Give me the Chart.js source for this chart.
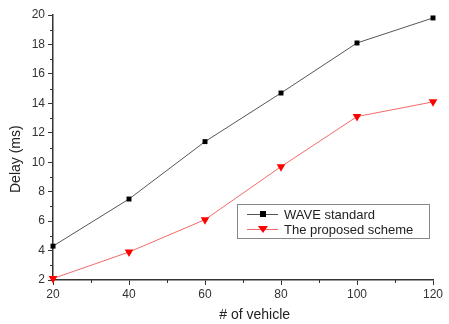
<!DOCTYPE html>
<html>
<head>
<meta charset="utf-8">
<script src="https://cdn.jsdelivr.net/npm/chart.js@4"></script>
<style>
  html, body { margin: 0; padding: 0; background: #fff; }
  #wrap { width: 449px; height: 324px; }
</style>
</head>
<body>
<div id="wrap"><canvas id="delayChart"></canvas></div>
<script>
const vehicles = [20, 40, 60, 80, 100, 120]
const waveDelay = [4.3, 7.5, 11.4, 14.7, 18.1, 19.8]
const proposedDelay = [2.1, 3.9, 6.1, 9.7, 13.1, 14.1]
const seriesNames = ['WAVE standard', 'The proposed scheme']

const axisColor = '#333'

// minor ticks between the labelled ones, like origin plots
const minorTicks = {
  id: 'minorTicks',
  afterDraw(chart) {
    const ctx = chart.ctx
    const x = chart.scales.x
    const y = chart.scales.y
    ctx.save()
    ctx.strokeStyle = axisColor
    ctx.lineWidth = 1
    ctx.beginPath()
    for (let v = 30; v < 120; v += 20) {
      const px = Math.round(x.getPixelForValue(v)) + 0.5
      ctx.moveTo(px, y.bottom)
      ctx.lineTo(px, y.bottom + 3)
    }
    for (let v = 3; v < 20; v += 2) {
      const py = Math.round(y.getPixelForValue(v)) + 0.5
      ctx.moveTo(x.left, py)
      ctx.lineTo(x.left - 3, py)
    }
    ctx.stroke()
    ctx.restore()
  }
}

// legend box sitting inside the plot, lower right
const boxLegend = {
  id: 'boxLegend',
  afterDraw(chart) {
    const ctx = chart.ctx
    const area = chart.chartArea
    const left = area.left + 184
    const top = area.top + 189
    const w = 192
    const h = 34
    ctx.save()
    ctx.strokeStyle = '#888'
    ctx.lineWidth = 1
    ctx.strokeRect(left + 0.5, top + 0.5, w, h)
    ctx.font = '13px "Liberation Sans", Arial, sans-serif'
    ctx.textBaseline = 'middle'
    chart.data.datasets.forEach((ds, i) => {
      const cy = top + 10 + i * 15
      ctx.strokeStyle = ds.borderColor
      ctx.lineWidth = 1
      ctx.beginPath()
      ctx.moveTo(left + 10, cy + 0.5)
      ctx.lineTo(left + 41, cy + 0.5)
      ctx.stroke()
      ctx.fillStyle = ds.pointBackgroundColor
      const mx = left + 26
      if (i === 0) {
        ctx.fillRect(mx - 3, cy - 3, 6, 6)
      } else {
        ctx.beginPath()
        ctx.moveTo(mx - 5, cy - 3)
        ctx.lineTo(mx + 5, cy - 3)
        ctx.lineTo(mx, cy + 4)
        ctx.closePath()
        ctx.fill()
      }
      ctx.fillStyle = '#222'
      ctx.fillText(ds.label, left + 47, cy + 1)
    })
    ctx.restore()
  }
}

new Chart(
  document.getElementById('delayChart'),
  {
    type: 'line',
    data: {
      datasets: [
        {
          label: seriesNames[0],
          data: vehicles.map((v, i) => ({ x: v, y: waveDelay[i] })),
          borderColor: '#555',
          borderWidth: 1,
          pointStyle: 'rect',
          pointRadius: 3.5,
          pointBackgroundColor: '#000',
          pointBorderColor: '#000',
          pointBorderWidth: 0,
          clip: false,
        },
        {
          label: seriesNames[1],
          data: vehicles.map((v, i) => ({ x: v, y: proposedDelay[i] })),
          borderColor: '#f26a6a',
          borderWidth: 1,
          pointStyle: 'triangle',
          pointRotation: 180,
          pointRadius: 5,
          pointBackgroundColor: '#f00',
          pointBorderColor: '#f00',
          pointBorderWidth: 0,
          clip: false,
        },
      ]
    },
    options: {
      responsive: true,
      maintainAspectRatio: false,
      animation: false,
      layout: { padding: { top: 15, right: 16, left: 0, bottom: 0 } },
      plugins: {
        legend: { display: false },
        tooltip: { enabled: false },
      },
      scales: {
        x: {
          type: 'linear',
          min: 20,
          max: 120,
          ticks: {
            stepSize: 20,
            color: axisColor,
            font: { family: '"Liberation Sans", Arial, sans-serif', size: 12 },
            padding: 2,
          },
          grid: { drawOnChartArea: false, drawTicks: true, tickLength: 5, color: axisColor },
          border: { display: true, color: axisColor, width: 1.5 },
          title: {
            display: true,
            // leading spaces nudge the title right of centre, as in the original
            text: '      # of vehicle',
            color: '#222',
            font: { family: '"Liberation Sans", Arial, sans-serif', size: 14 },
            padding: { top: 4, bottom: 0 },
          },
          afterFit: scale => { scale.height = 44 },
        },
        y: {
          min: 2,
          max: 20,
          ticks: {
            stepSize: 2,
            color: axisColor,
            font: { family: '"Liberation Sans", Arial, sans-serif', size: 12 },
            padding: 3,
          },
          grid: { drawOnChartArea: false, drawTicks: true, tickLength: 5, color: axisColor },
          border: { display: true, color: axisColor, width: 1.5 },
          title: {
            display: true,
            text: 'Delay (ms)      ',
            color: '#222',
            font: { family: '"Liberation Sans", Arial, sans-serif', size: 14 },
            padding: { top: 8, bottom: 0 },
          },
          afterFit: scale => { scale.width = 53 },
        },
      },
    },
    plugins: [minorTicks, boxLegend],
  }
)
</script>
</body>
</html>
